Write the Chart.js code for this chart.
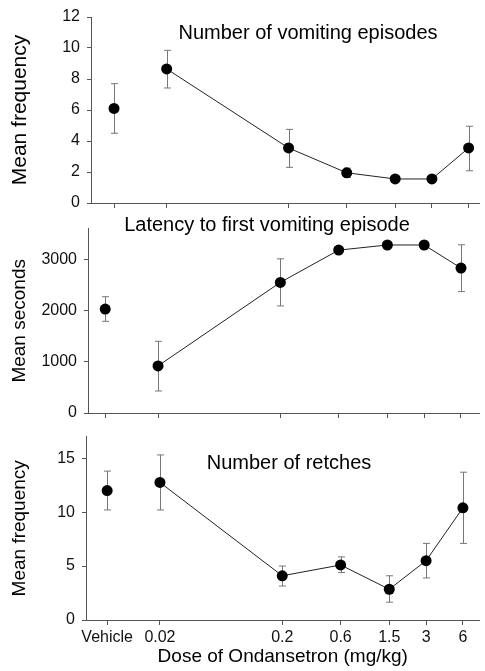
<!DOCTYPE html>
<html>
<head>
<meta charset="utf-8">
<script src="https://cdn.jsdelivr.net/npm/chart.js@4.4.0/dist/chart.umd.min.js"></script>
<style>
  html, body { margin: 0; padding: 0; background: #fff; }
  #wrap { position: relative; width: 485px; height: 671px; }
  canvas { position: absolute; left: 0; }
</style>
</head>
<body>
<div id="wrap">
  <canvas id="c1" width="485" height="220" style="top:0"></canvas>
  <canvas id="c2" width="485" height="218" style="top:212px"></canvas>
  <canvas id="c3" width="485" height="251" style="top:420px"></canvas>
</div>
<script>
// x categories (first one is the vehicle group, the rest are doses in mg/kg)
const doseLabels = ['Vehicle', '0.02', '0.2', '0.6', '1.5', '3', '6'];
const doses = [0.02, 0.2, 0.6, 1.5, 3, 6];

// number of vomiting episodes (vehicle first)
const vomitMean = [6.1, 8.65, 3.55, 1.95, 1.55, 1.55, 3.55];
const vomitLow  = [4.5, 7.42, 2.3, 1.65, 1.42, 1.42, 2.08];
const vomitHigh = [7.7, 9.85, 4.75, 2.25, 1.65, 1.65, 4.95];
const vomitTicks = [0, 2, 4, 6, 8, 10, 12];

// latency to first vomiting episode, seconds
const latMean = [2030, 920, 2550, 3180, 3280, 3280, 2830];
const latLow  = [1790, 430, 2090, 3140, 3240, 3240, 2370];
const latHigh = [2270, 1400, 3010, 3220, 3320, 3320, 3285];
const latTicks = [0, 1000, 2000, 3000];

// number of retches
const retchMean = [12.0, 12.75, 4.1, 5.1, 2.85, 5.5, 10.4];
const retchLow  = [10.2, 10.2, 3.15, 4.4, 1.65, 3.9, 7.1];
const retchHigh = [13.8, 15.3, 5.0, 5.85, 4.1, 7.1, 13.7];
const retchTicks = [0, 5, 10, 15];

// where the vehicle group sits on the log dose axis
const VEHICLE_POS = 0.0074;
const xPositions = [VEHICLE_POS].concat(doses);

Chart.defaults.font.family = '"Liberation Sans", Arial, sans-serif';
Chart.defaults.color = '#111';

const errorBars = {
  id: 'errorBars',
  beforeDatasetsDraw(chart, args, opts) {
    const ctx = chart.ctx;
    const x = chart.scales.x, y = chart.scales.y;
    ctx.save();
    ctx.strokeStyle = '#777';
    ctx.lineWidth = 1;
    opts.low.forEach((lo, i) => {
      const px = Math.round(x.getPixelForValue(xPositions[i])) + 0.5;
      const y1 = y.getPixelForValue(lo);
      const y2 = y.getPixelForValue(opts.high[i]);
      ctx.beginPath();
      ctx.moveTo(px, y1); ctx.lineTo(px, y2);
      ctx.moveTo(px - 3.5, y1); ctx.lineTo(px + 3.5, y1);
      ctx.moveTo(px - 3.5, y2); ctx.lineTo(px + 3.5, y2);
      ctx.stroke();
    });
    ctx.restore();
  }
};

const panelTitle = {
  id: 'panelTitle',
  afterDraw(chart, args, opts) {
    const ctx = chart.ctx;
    ctx.save();
    ctx.font = '20px "Liberation Sans", Arial, sans-serif';
    ctx.fillStyle = '#000';
    ctx.textAlign = 'center';
    ctx.textBaseline = 'middle';
    ctx.fillText(opts.text, opts.x, opts.y);
    ctx.restore();
  }
};

function makePanel(id, p) {
  const vehicle = [{ x: VEHICLE_POS, y: p.mean[0] }];
  const line = doses.map((d, i) => ({ x: d, y: p.mean[i + 1] }));
  const point = { pointRadius: 5.5, pointHoverRadius: 5.5, pointBackgroundColor: '#000', pointBorderWidth: 0 };

  return new Chart(document.getElementById(id), {
    type: 'line',
    data: {
      datasets: [
        Object.assign({ data: vehicle, showLine: false }, point),
        Object.assign({ data: line, borderColor: '#222', borderWidth: 1 }, point)
      ]
    },
    options: {
      responsive: false,
      animation: false,
      devicePixelRatio: 1,
      layout: { padding: { top: p.top, left: 0, right: 0, bottom: 0 } },
      plugins: {
        legend: { display: false },
        tooltip: { enabled: false },
        errorBars: { low: p.low, high: p.high },
        panelTitle: p.title
      },
      scales: {
        x: {
          type: 'logarithmic',
          min: p.xMin,
          max: p.xMax,
          afterBuildTicks: s => { s.ticks = xPositions.map(v => ({ value: v })); },
          afterFit: s => { s.height = p.xHeight; },
          ticks: {
            display: p.xLabels,
            autoSkip: false,
            maxRotation: 0,
            padding: 3,
            font: { size: 16 },
            color: '#111',
            callback: (v, i) => doseLabels[i]
          },
          grid: { drawOnChartArea: false, tickLength: 5, color: '#555' },
          border: { color: '#555' },
          title: {
            display: p.xLabels,
            text: 'Dose of Ondansetron (mg/kg)',
            font: { size: 19 },
            color: '#000',
            padding: { top: 3, bottom: 3 }
          }
        },
        y: {
          min: 0,
          max: p.yMax,
          afterBuildTicks: s => { s.ticks = p.yTicks.map(v => ({ value: v })); },
          afterFit: s => { s.width = p.yWidth; },
          ticks: { font: { size: 16 }, color: '#111', padding: 7, callback: v => String(v) },
          grid: { drawOnChartArea: false, tickLength: 4, color: '#555' },
          border: { color: '#555' },
          title: {
            display: true,
            text: p.yTitle,
            font: { size: p.yTitleSize },
            color: '#000',
            padding: { top: 8, bottom: 0 }
          }
        }
      }
    },
    plugins: [errorBars, panelTitle]
  });
}

makePanel('c1', {
  mean: vomitMean, low: vomitLow, high: vomitHigh, yTicks: vomitTicks, yMax: 12,
  yTitle: 'Mean frequency', yTitleSize: 21, top: 17, yWidth: 91, xHeight: 17, xLabels: false,
  xMin: 0.00479, xMax: 7.37,
  title: { text: 'Number of vomiting episodes', x: 308, y: 33 }
});

makePanel('c2', {
  mean: latMean, low: latLow, high: latHigh, yTicks: latTicks, yMax: 3600,
  yTitle: 'Mean seconds', yTitleSize: 19, top: 16, yWidth: 88, xHeight: 17, xLabels: false,
  xMin: 0.00535, xMax: 8.5,
  title: { text: 'Latency to first vomiting episode', x: 267, y: 13 }
});

makePanel('c3', {
  mean: retchMean, low: retchLow, high: retchHigh, yTicks: retchTicks, yMax: 17,
  yTitle: 'Mean frequency', yTitleSize: 19, top: 14, yWidth: 86, xHeight: 51, xLabels: true,
  xMin: 0.00497, xMax: 8.2,
  title: { text: 'Number of retches', x: 289, y: 43 }
});
</script>
</body>
</html>
